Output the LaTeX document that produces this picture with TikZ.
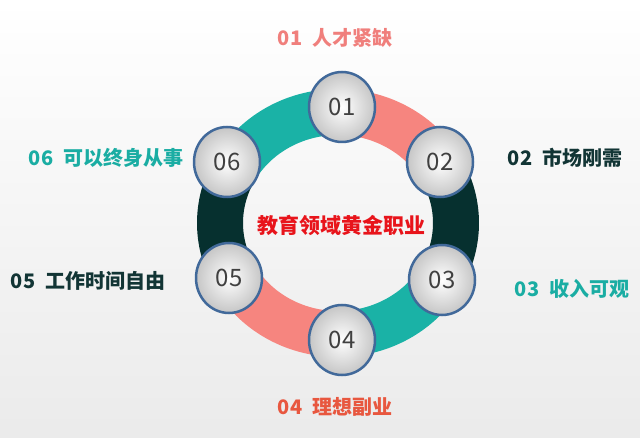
\documentclass[tikz,border=0pt]{standalone}
\usepackage{fontspec}
\setmainfont{Noto Sans CJK SC}
\usetikzlibrary{shadings,shapes.geometric}
\definecolor{ringpink}{HTML}{F6857F}
\definecolor{ringdark}{HTML}{06302F}
\definecolor{ringteal}{HTML}{1AB2A6}
\definecolor{rimblue}{HTML}{41699A}
\definecolor{lblpink}{HTML}{F07F7C}
\definecolor{lbldark}{HTML}{123535}
\definecolor{lblteal}{HTML}{1AADA3}
\definecolor{lblred}{HTML}{E8573F}
\definecolor{ctrred}{HTML}{E8141B}
\definecolor{numgray}{HTML}{404040}
\newcommand{\ringseg}[3]{%
  \fill[#3] plot[domain=#1:#2,samples=40] ({338+141*cos(\x)},{223+134*sin(\x)})
    -- plot[domain=#2:#1,samples=40] ({338+95*cos(\x)},{223+88*sin(\x)}) -- cycle;}
\begin{document}
\begin{tikzpicture}[x=1pt,y=-1pt,
  numball/.style={ellipse,minimum width=66pt,minimum height=70pt,inner sep=0pt,draw=rimblue,line width=2.5pt,
    inner color=white,outer color=gray!45,text=numgray,font=\fontsize{24}{24}\selectfont},
  lbl/.style={font=\fontsize{20}{20}\selectfont\bfseries,inner sep=0pt}]
\shade[top color=white,bottom color=gray!16] (0,0) rectangle (640,438);
\useasboundingbox (0,0) rectangle (640,438);
\ringseg{-90}{-30}{ringpink}
\ringseg{-30}{30}{ringdark}
\ringseg{30}{90}{ringteal}
\ringseg{90}{150}{ringpink}
\ringseg{150}{210}{ringdark}
\ringseg{210}{270}{ringteal}
\node[numball] (c1) at (342,107) {01};
\node[numball] (c2) at (440,162) {02};
\node[numball] (c3) at (442,280) {03};
\node[numball] (c4) at (342,340) {04};
\node[numball] (c5) at (229,278) {05};
\node[numball] (c6) at (227,162) {06};
\node[font=\fontsize{21}{21}\selectfont\bfseries,text=ctrred,inner sep=0pt] (ctr) at (341,225) {教育领域黄金职业};
\node[lbl,text=lblpink] (l1) at (335,38) {01\enspace 人才紧缺};
\node[lbl,text=lbldark] (l2) at (565,158) {02\enspace 市场刚需};
\node[lbl,text=lblteal] (l3) at (572,289) {03\enspace 收入可观};
\node[lbl,text=lblred] (l4) at (335,407) {04\enspace 理想副业};
\node[lbl,text=lbldark] (l5) at (88,281) {05\enspace 工作时间自由};
\node[lbl,text=lblteal] (l6) at (106,158) {06\enspace 可以终身从事};
\end{tikzpicture}
\end{document}
